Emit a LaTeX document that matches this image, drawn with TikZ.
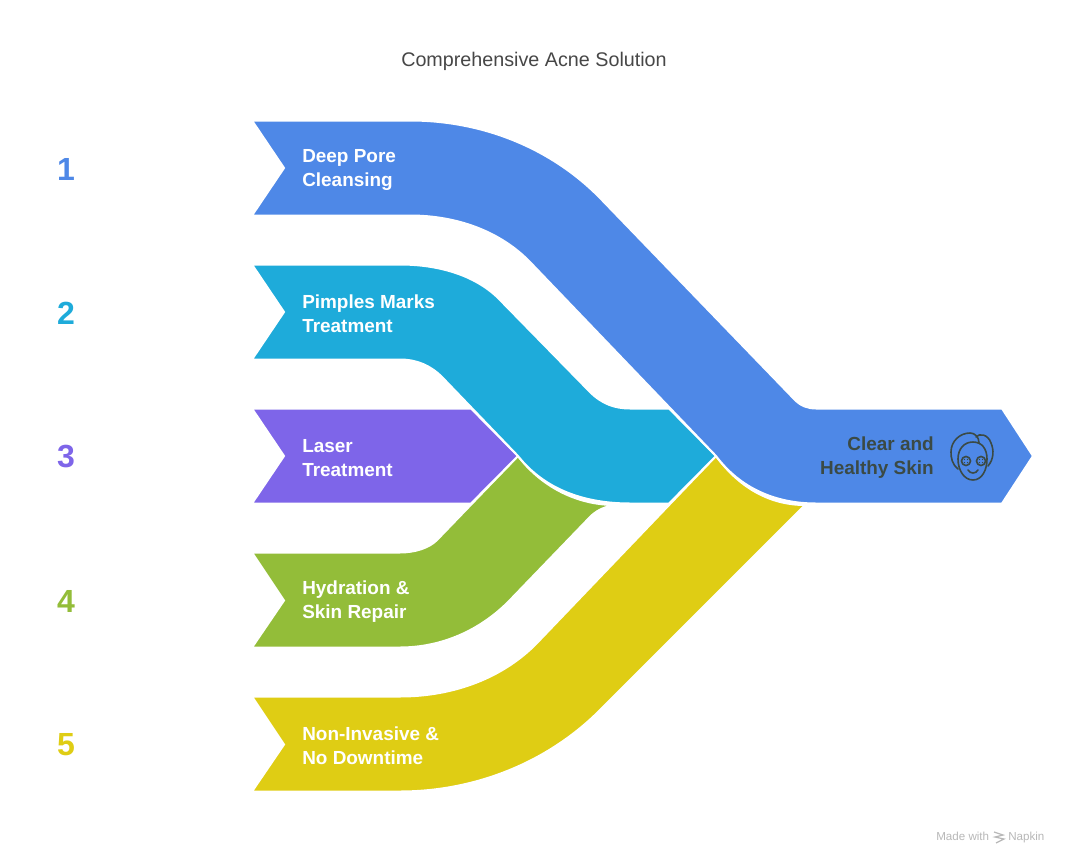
\documentclass[tikz,border=0pt]{standalone}
\usepackage{fontspec}
\setmainfont{Liberation Sans}
\definecolor{cblue}{HTML}{4E88E7}
\definecolor{cteal}{HTML}{1EABDA}
\definecolor{cpurple}{HTML}{7E65E9}
\definecolor{cgreen}{HTML}{93BD39}
\definecolor{cyellow}{HTML}{DFCD14}
\definecolor{cdark}{HTML}{3B4A45}
\tikzset{
  x=0.75pt,y=-0.75pt,
  band/.style={draw=white,line width=1.5pt,line join=miter},
  lab/.style={font=\fontsize{14.2}{18}\selectfont\bfseries,text=white,align=left,anchor=west,inner sep=0pt},
  num/.style={font=\fontsize{24}{28}\selectfont\bfseries,inner sep=0pt},
  icon/.style={draw=cdark,line width=1.2pt,line cap=round,line join=round},
  mark text/.style={font=\fontsize{8.7}{10}\selectfont,text=black!28,inner sep=0pt,anchor=base west}
}
\begin{document}
\begin{tikzpicture}
\useasboundingbox (0,0) rectangle (1068,864);
\fill[white] (0,0) rectangle (1068,864);
\node[font=\fontsize{14.8}{18}\selectfont,text=black!72,inner sep=0pt] (title) at (534,61) {Comprehensive Acne Solution};
% bands
\fill[cyellow,band] (252,696.5) -- (400,696.5) .. controls (455,696.5) and (504,677) .. (537,643) -- (716,456)
  .. controls (738,486) and (768,505) .. (805,505) -- (603,707) .. controls (551,761) and (477,791.5) .. (400,791.5) -- (252,791.5) -- (284,744.5) -- cycle;
\fill[cgreen,band] (252,552.5) -- (400,552.5) .. controls (415,552.5) and (429,548) .. (437,540) -- (518,456)
  .. controls (540,485) and (575,505) .. (615,505) .. controls (603,507) and (596,511) .. (590,517) -- (510,600)
  .. controls (481,630) and (442,647.5) .. (400,647.5) -- (252,647.5) -- (284,600.5) -- cycle;
\fill[cpurple,band] (252,408.5) -- (471,408.5) -- (518,456) -- (471,503.5) -- (252,503.5) -- (284,456) -- cycle;
\fill[cteal,band] (252,264.5) -- (400,264.5) .. controls (442,264.5) and (478,277) .. (500,300) -- (590,392)
  .. controls (602,404) and (615,408.5) .. (630,408.5) -- (669,408.5) -- (716,456) -- (669,503.5) -- (630,503.5)
  .. controls (585,503.5) and (545,490) .. (518,456) -- (442,377) .. controls (430,365) and (416,359.5) .. (400,359.5) -- (252,359.5) -- (284,312) -- cycle;
\fill[cblue,band] (252,120.5) -- (410,120.5) .. controls (484,120.5) and (552,149) .. (600,198) -- (795,400)
  .. controls (801,406) and (808,408.5) .. (816,408.5) -- (1002,408.5) -- (1033,456) -- (1002,503.5) -- (816,503.5)
  .. controls (775,503.5) and (740,488) .. (716,456) -- (530,262) .. controls (501,232) and (458,215.5) .. (410,215.5) -- (252,215.5) -- (284,168) -- cycle;
% numbers
\node[num,text=cblue] (n1) at (66,169) {1};
\node[num,text=cteal] (n2) at (66,313) {2};
\node[num,text=cpurple] (n3) at (66,457) {3};
\node[num,text=cgreen] (n4) at (66,601) {4};
\node[num,text=cyellow] (n5) at (66,745) {5};
% labels
\node[lab] (l1) at (302,170) {Deep Pore\\Cleansing};
\node[lab] (l2) at (302,314) {Pimples Marks\\Treatment};
\node[lab] (l3) at (302,458) {Laser\\Treatment};
\node[lab] (l4) at (302,602) {Hydration \&\\Skin Repair};
\node[lab] (l5) at (302,746) {Non-Invasive \&\\No Downtime};
\node[lab,text=cdark,align=right,anchor=east] (l6) at (934,458) {Clear and\\Healthy Skin};
% face icon
\draw[icon] (958,469) .. controls (952,464) and (951,458) .. (951,452) .. controls (951,441) and (960,433) .. (970,433)
  .. controls (975,433) and (979,437) .. (979,443);
\draw[icon] (976,437) .. controls (979,433) and (988,434) .. (991,443) .. controls (994,450) and (994,459) .. (988,466);
\draw[icon] (958,459) .. controls (958,449) and (964,442) .. (973,442) .. controls (982,442) and (987,449) .. (987,459)
  .. controls (987,470) and (982,480) .. (973,480) .. controls (964,480) and (958,470) .. (958,459) -- cycle;
\coordinate (eyeL) at (966,461);
\coordinate (eyeR) at (981,461);
\draw[icon] (eyeL) circle (3.4pt);
\draw[icon] (eyeR) circle (3.4pt);
\foreach \e in {eyeL,eyeR}{
  \fill[cdark] (\e) ++(-1.6,-1.6) circle (0.55pt) ++(3.2,0) circle (0.55pt) ++(0,3.2) circle (0.55pt) ++(-3.2,0) circle (0.55pt);
}
\draw[icon] (968,470) .. controls (970,474) and (976,474) .. (978,470);
% watermark
\node[mark text] (m1) at (936,840) {Made with};
\draw[black!28,line width=0.9pt] (994,832) -- (1003,835) -- (995,837) -- (1004,839) -- (996,843);
\node[mark text] (m2) at (1008,840) {Napkin};
\end{tikzpicture}
\end{document}
